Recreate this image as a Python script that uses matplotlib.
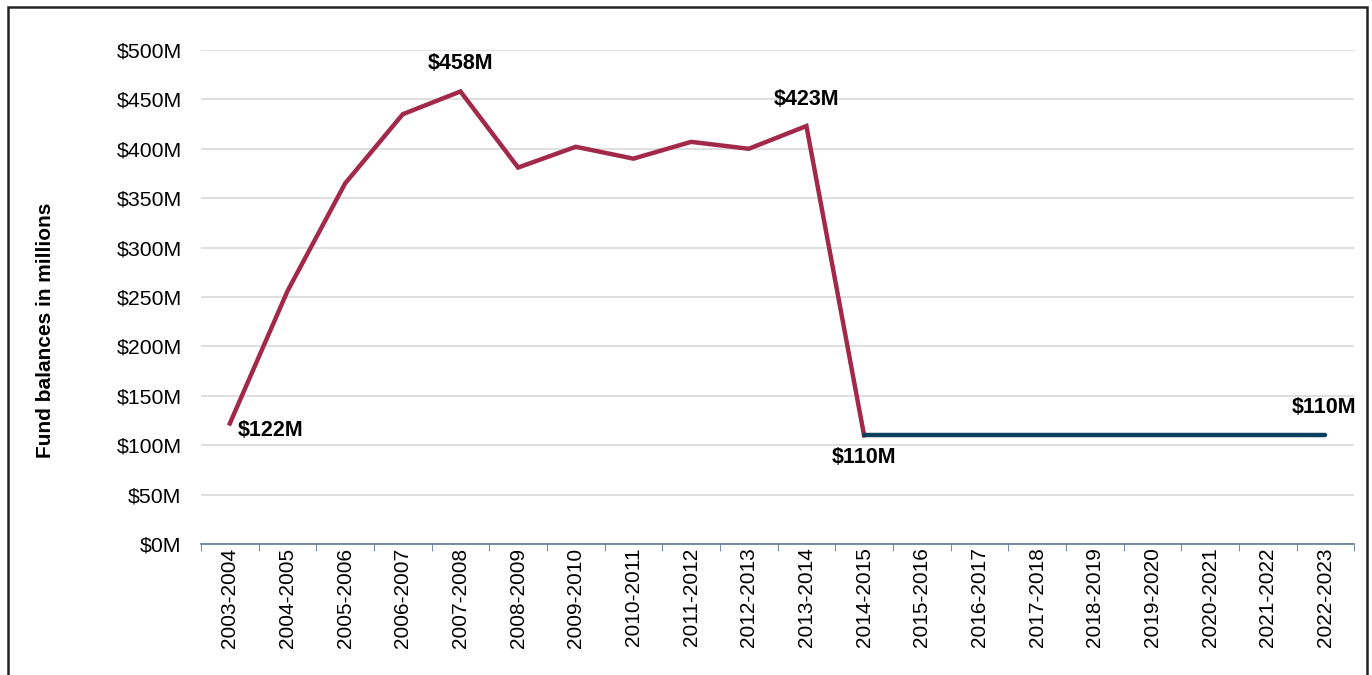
import matplotlib
matplotlib.use("Agg")
import matplotlib.pyplot as plt
from matplotlib.patches import Rectangle
import numpy as np

plt.rcParams['font.family'] = ['Liberation Sans', 'DejaVu Sans']

years = ["2003-2004", "2004-2005", "2005-2006", "2006-2007", "2007-2008",
         "2008-2009", "2009-2010", "2010-2011", "2011-2012", "2012-2013",
         "2013-2014", "2014-2015", "2015-2016", "2016-2017", "2017-2018",
         "2018-2019", "2019-2020", "2020-2021", "2021-2022", "2022-2023"]
# actual balances, $M
actual = [122, 256, 365, 435, 458, 381, 402, 390, 407, 400, 423, 110]
# flat balance from 2014-2015 onward, $M
flat = [110, 110, 110, 110, 110, 110, 110, 110, 110]
# (index, series, text, dx, dy, ha)
labels = [
    (0, "actual", "$122M", 6, -5, "left"),
    (4, "actual", "$458M", 0, 20, "center"),
    (10, "actual", "$423M", 0, 19, "center"),
    (11, "actual", "$110M", 0, -16, "center"),
    (19, "flat", "$110M", -1, 20, "center"),
]

red = "#A3294A"
blue = "#0D3F5F"

fig = plt.figure(figsize=(13.72, 6.75), dpi=100)
ax = fig.add_axes([0.1465, 0.194, 0.8405, 0.732])

x_actual = np.arange(len(actual))
x_flat = np.arange(len(actual) - 1, len(actual) - 1 + len(flat))
ax.plot(x_actual, actual, color=red, lw=3.2, solid_joinstyle="miter", zorder=3)
ax.plot(x_flat, flat, color=blue, lw=3.2, solid_capstyle="round", zorder=3)

for i, ser, txt, dx, dy, ha in labels:
    if ser == "actual":
        xv, yv = x_actual[i], actual[i]
    else:
        xv, yv = i, flat[i - (len(actual) - 1)]
    ax.annotate(txt, (xv, yv), xytext=(dx, dy), textcoords="offset points",
                ha=ha, va="center", fontsize=15.5, fontweight="bold")

ax.set_xlim(-0.5, len(years) - 0.5)
ax.set_ylim(0, 500)
ax.set_yticks(np.arange(0, 501, 50))
ax.set_yticklabels(["$%dM" % v for v in range(0, 501, 50)], fontsize=15.3)
ax.set_xticks(np.arange(len(years)))
ax.set_xticklabels(years, rotation=90, fontsize=15)
ax.set_xticks(np.arange(-0.5, len(years), 1), minor=True)
ax.tick_params(axis="x", which="major", length=0, pad=2.5)
ax.tick_params(axis="x", which="minor", length=5, color="#5B7A95")
ax.tick_params(axis="y", length=0, pad=14)

ax.grid(axis="y", color="#D9D9D9", lw=1.2)
ax.set_axisbelow(True)
for s in ["top", "right", "left"]:
    ax.spines[s].set_visible(False)
ax.spines["bottom"].set_color("#5B7A95")
ax.spines["bottom"].set_linewidth(1.2)

fig.text(0.033, 0.51, "Fund balances in millions", rotation=90, ha="center",
         va="center", fontsize=15, fontweight="bold")

# outer frame, bottom edge runs off the image
fig.patches.append(Rectangle((0.0055, -0.05), 0.9905, 1.04, transform=fig.transFigure,
                             fill=False, edgecolor="#222222", lw=1.8))

fig.savefig("out.png", dpi=100)
